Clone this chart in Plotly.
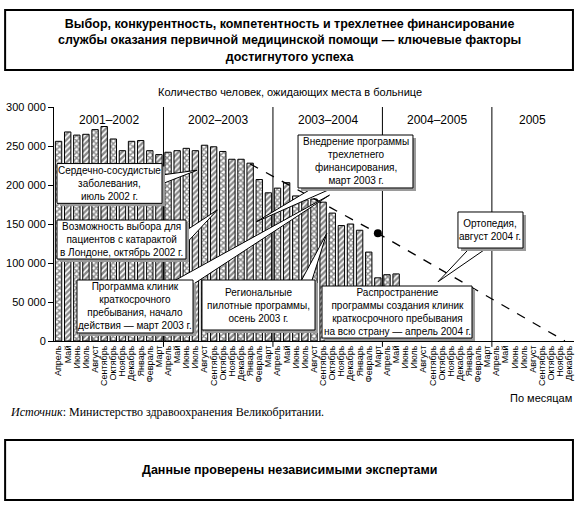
import plotly.graph_objects as go

# months from April 2001 to December 2005
month_names = ["Апрель", "Май", "Июнь", "Июль", "Август", "Сентябрь", "Октябрь",
               "Ноябрь", "Декабрь", "Январь", "Февраль", "Март"]
months = (month_names * 5)[:57]

# waiting list, people, Apr 2001 .. May 2004
waiting = [256000, 268000, 264000, 265000, 271000, 275000, 259000, 244000,
           256000, 257000, 244000, 239000, 242000, 244000, 247000, 244000,
           251000, 249000, 243000, 233000, 233000, 228000, 207000, 190000,
           196000, 203000, 186000, 181000, 182000, 178000, 164000, 148000,
           150000, 142000, 114000, 81000, 85000, 86000]

# target trend (dashed)
target_x = [21, 35, 55.5]
target_y = [227000, 138000, 0]
dot_x = [35]
dot_y = [138000]

years = ["2001–2002", "2002–2003", "2003–2004", "2004–2005", "2005"]
year_pos = [5.5, 17.5, 29.5, 41.5, 52]
year_breaks = [11.5, 23.5, 35.5, 47.5]

y_ticks = [0, 50000, 100000, 150000, 200000, 250000, 300000]
y_labels = ["0", "50 000", "100 000", "150 000", "200 000", "250 000", "300 000"]

NARROW = "Liberation Sans Narrow, Arial Narrow, Liberation Sans, Arial"
SANS = "Liberation Sans, Arial"

fig = go.Figure()

fig.add_trace(go.Bar(
    x=list(range(len(waiting))),
    y=waiting,
    marker=dict(
        color="white",
        line=dict(color="black", width=1),
        pattern=dict(shape=["/" if i % 2 else "x" for i in range(len(waiting))],
                     fgcolor="#111", size=4, solidity=0.6),
    ),
    showlegend=False,
))

fig.add_trace(go.Scatter(
    x=target_x, y=target_y, mode="lines",
    line=dict(color="black", width=1.3, dash="dash"),
    showlegend=False,
))
fig.add_trace(go.Scatter(
    x=dot_x, y=dot_y, mode="markers",
    marker=dict(color="black", size=8),
    showlegend=False,
))

shapes = []
for xb in year_breaks:
    shapes.append(dict(type="line", xref="x", yref="paper", x0=xb, x1=xb,
                       y0=-0.025, y1=1, line=dict(color="black", width=1),
                       layer="below"))

# callout pointers (wedges): base1, base2, tip
wedges = [
    [(10.8, 212000), (10.8, 199000), (15.2, 219000)],
    [(13.5, 138000), (13.5, 119000), (17.4, 168000)],
    [(12.5, 76000), (14.4, 70000), (29.7, 187000)],
    [(26.5, 75000), (27.7, 75000), (29.4, 138000)],
    [(28.4, 200000), (30.8, 200000), (21.7, 153000)],
    [(45.3, 122000), (47.3, 122000), (41.6, 76000)],
]
for (a, b, c) in wedges:
    path = f"M {a[0]},{a[1]} L {c[0]},{c[1]} L {b[0]},{b[1]} Z"
    shapes.append(dict(type="path", xref="x", yref="y", path=path,
                       fillcolor="white", line=dict(color="black", width=1),
                       layer="above"))

# callout boxes: text, x0, x1, y0, y1
callouts = [
    ("Сердечно-сосудистые<br>заболевания,<br>июль 2002 г.", -0.17, 11.34, 176500, 227500),
    ("Возможность выбора для<br>пациентов с катарактой<br>в Лондоне, октябрь 2002 г.", -0.17, 13.97, 105100, 155100),
    ("Программа клиник<br>краткосрочного<br>пребывания, начало<br>действия — март 2003 г.", 2.02, 14.74, 10300, 78200),
    ("Региональные<br>пилотные программы,<br>осень 2003 г.", 15.72, 28.11, 14100, 78200),
    ("Внедрение программы<br>трехлетнего<br>финансирования,<br>март 2003 г.", 26.25, 38.85, 196200, 264100),
    ("Распространение<br>программы создания клиник<br>краткосрочного пребывания<br>на всю страну — апрель 2004 г.", 28.88, 45.32, 3800, 70500),
    ("Ортопедия,<br>август 2004 г.", 43.78, 50.91, 119200, 165400),
]
annotations = []
for text, x0, x1, y0, y1 in callouts:
    shapes.append(dict(type="rect", xref="x", yref="y", x0=x0 + 0.33, x1=x1 + 0.33,
                       y0=y0 - 3800, y1=y1 - 3800, fillcolor="#9a9a9a",
                       line=dict(width=0), layer="above"))
    shapes.append(dict(type="rect", xref="x", yref="y", x0=x0, x1=x1, y0=y0, y1=y1,
                       fillcolor="white", line=dict(color="black", width=1),
                       layer="above"))
    annotations.append(dict(x=(x0 + x1) / 2, y=(y0 + y1) / 2, xref="x", yref="y",
                            text=text, showarrow=False,
                            font=dict(family=NARROW, size=10, color="black")))

# title and bottom boxes
shapes.append(dict(type="rect", xref="paper", yref="paper",
                   x0=-0.094, x1=0.998, y0=1.158, y1=1.4145,
                   line=dict(color="black", width=2)))
shapes.append(dict(type="rect", xref="paper", yref="paper",
                   x0=-0.094, x1=0.998, y0=-0.679, y1=-0.423,
                   line=dict(color="black", width=2)))

for name, xp in zip(years, year_pos):
    annotations.append(dict(x=xp, y=283000, xref="x", yref="y", text=name,
                            showarrow=False, font=dict(family=NARROW, size=12, color="black")))

annotations += [
    dict(x=0.453, y=1.286, xref="paper", yref="paper", showarrow=False,
         xanchor="center", yanchor="middle",
         text="<b>Выбор, конкурентность, компетентность и трехлетнее финансирование<br>"
              "службы оказания первичной медицинской помощи — ключевые факторы<br>"
              "достигнутого успеха</b>",
         font=dict(family=SANS, size=12.5, color="black")),
    dict(x=0.453, y=1.064, xref="paper", yref="paper", showarrow=False,
         xanchor="center", yanchor="middle",
         text="Количество человек, ожидающих места в больнице",
         font=dict(family=NARROW, size=11, color="black")),
    dict(x=1.0, y=-0.244, xref="paper", yref="paper", showarrow=False,
         xanchor="right", yanchor="middle",
         text="По месяцам", font=dict(family=NARROW, size=11, color="black")),
    dict(x=-0.088, y=-0.303, xref="paper", yref="paper", showarrow=False,
         xanchor="left", yanchor="middle",
         text="<i>Источник</i>: Министерство здравоохранения Великобритании.",
         font=dict(family="Liberation Serif, Times New Roman", size=12, color="black")),
    dict(x=0.453, y=-0.551, xref="paper", yref="paper", showarrow=False,
         xanchor="center", yanchor="middle",
         text="<b>Данные проверены независимыми экспертами</b>",
         font=dict(family=SANS, size=12.5, color="black")),
]

fig.update_layout(
    width=579, height=508,
    margin=dict(l=54, r=5, t=107, b=167),
    plot_bgcolor="white", paper_bgcolor="white",
    bargap=0.3,
    shapes=shapes,
    annotations=annotations,
    xaxis=dict(range=[-0.5, 56.5], tickvals=list(range(57)), ticktext=months,
               tickangle=-90, showline=True, linecolor="black", linewidth=1,
               ticks="", showgrid=False, zeroline=False, automargin=False,
               tickfont=dict(family=NARROW, size=9, color="black")),
    yaxis=dict(range=[0, 300000], tickvals=y_ticks, ticktext=y_labels,
               showline=True, linecolor="black", linewidth=1,
               ticks="outside", ticklen=5, tickcolor="black",
               showgrid=False, zeroline=False, automargin=False,
               tickfont=dict(family=NARROW, size=11, color="black")),
)

# page body has a default 8px margin; drop it so the figure sits at the corner
fig.write_html("out.html", config={"displayModeBar": False},
               post_script="document.body.style.margin='0';")
